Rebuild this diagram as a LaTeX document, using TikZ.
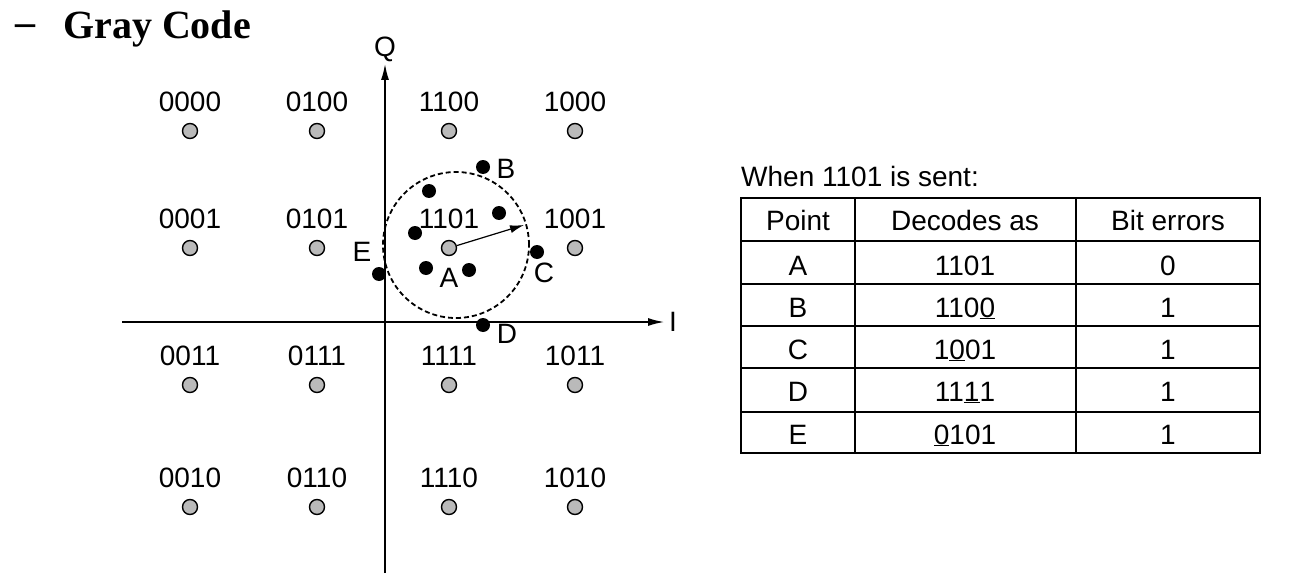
\documentclass[tikz,border=0pt]{standalone}
\usepackage{fontspec}
\setmainfont{Liberation Serif}
\setsansfont{Liberation Sans}
\usetikzlibrary{arrows.meta}

\begin{document}
\begin{tikzpicture}[x=1pt,y=-1pt,
	pt/.style={circle,draw=black,fill=black!27,line width=1.4pt,inner sep=0pt,minimum size=15pt},
	hit/.style={circle,fill=black,inner sep=0pt,minimum size=14pt},
	lbl/.style={font=\sffamily\fontsize{28}{32}\selectfont,inner sep=0pt},
	axis/.style={line width=1.4pt,-{Latex[length=16pt,width=8pt]}},
	tbl/.style={line width=1.4pt}]
	\useasboundingbox (0,0) rectangle (1314,583);
	
	\node[font=\bfseries\fontsize{40}{46}\selectfont] (dash) at (25,30) {--};
	\node[font=\bfseries\fontsize{40}{46}\selectfont,anchor=west,inner sep=0pt] (title) at (63,29) {Gray Code};
	
	\coordinate (qbot) at (385,573);
	\coordinate (qtop) at (385,64);
	\coordinate (ileft) at (122,322);
	\coordinate (iright) at (664,322);
	\draw[axis] (qbot) -- (qtop);
	\draw[axis] (ileft) -- (iright);
	\node[lbl] (Q) at (385,49) {Q};
	\node[lbl] (I) at (673,322) {I};
	
	\foreach \code/\x/\y in {0000/190/131,0100/317/131,1100/449/131,1000/575/131,
		0001/190/248,0101/317/248,1101/449/248,1001/575/248,
		0011/190/385,0111/317/385,1111/449/385,1011/575/385,
		0010/190/507,0110/317/507,1110/449/507,1010/575/507}{
		\node[pt] (p\code) at (\x,\y) {};
		\node[lbl] (l\code) at (\x,\y-29) {\code};
	}
	
	\draw[line width=1.8pt,dash pattern=on 5pt off 3pt] (456,245) circle[radius=73pt];
	\coordinate (rim) at (524,225);
	\draw[line width=1.2pt,-{Latex[length=14pt,width=8pt]}] (p1101) -- (rim);
	
	\node[hit] (h1) at (429,191) {};
	\node[hit] (h2) at (499,213) {};
	\node[hit] (h3) at (415,233) {};
	\node[hit] (h4) at (426,268) {};
	\node[hit] (h5) at (469,270) {};
	\node[hit] (hB) at (483,167) {};
	\node[hit] (hC) at (537,252) {};
	\node[hit] (hD) at (483,325) {};
	\node[hit] (hE) at (379,274) {};
	\node[lbl] (A) at (449,278) {A};
	\node[lbl] (B) at (506,169) {B};
	\node[lbl] (C) at (544,273) {C};
	\node[lbl] (D) at (507,334) {D};
	\node[lbl] (E) at (362,252) {E};
	
	\node[lbl,anchor=west] (when) at (741,176) {When 1101 is sent:};
	\draw[tbl] (741,198) rectangle (1260,453);
	\foreach \y in {241,284,326,368,412}{
		\draw[tbl] (741,\y) -- (1260,\y);
	}
	\draw[tbl] (855,198) -- (855,453);
	\draw[tbl] (1076,198) -- (1076,453);
	
	\node[lbl] (hpoint) at (798,220) {Point};
	\node[lbl] (hdec) at (965,220) {Decodes as};
	\node[lbl] (hbit) at (1168,220) {Bit errors};
	\foreach \n/\d/\b/\y in {A/1101/0/275,B/110\underline{0}/1/317,C/1\underline{0}01/1/359,D/11\underline{1}1/1/401,E/\underline{0}101/1/444}{
		\node[lbl,anchor=base] (r\n) at (798,\y) {\n};
		\node[lbl,anchor=base] (d\n) at (965,\y) {\d};
		\node[lbl,anchor=base] (b\n) at (1168,\y) {\b};
	}
\end{tikzpicture}
\end{document}
